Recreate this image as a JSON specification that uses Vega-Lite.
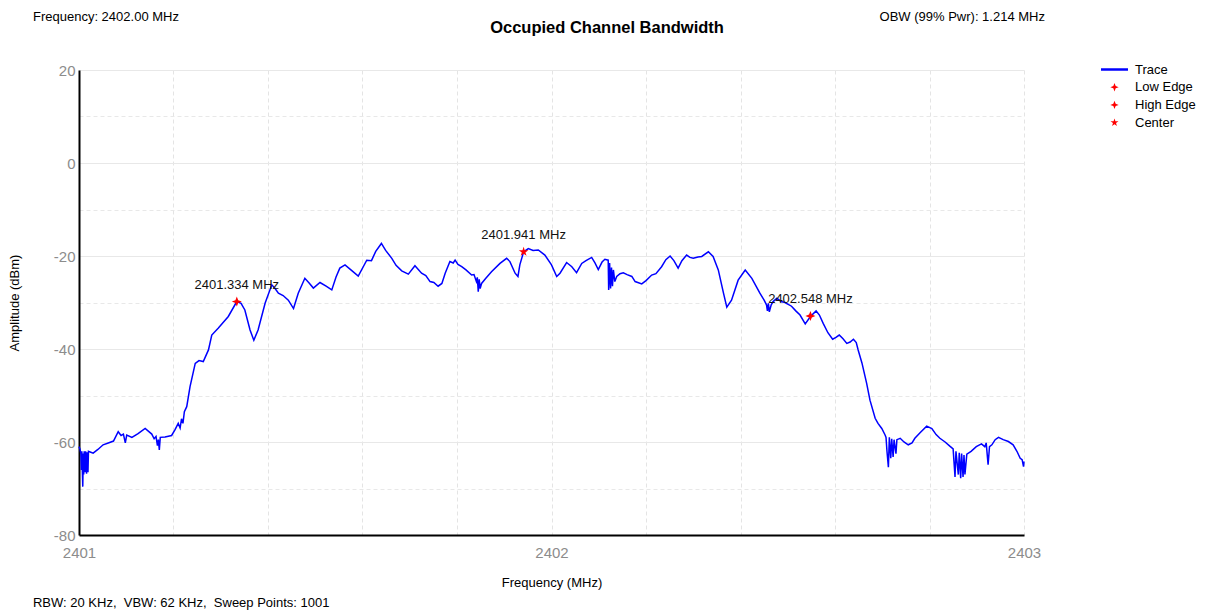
{
  "$schema": "https://vega.github.io/schema/vega-lite/v6.json",
  "width": 945,
  "height": 465,
  "autosize": {"type": "none"},
  "padding": {"left": 79, "top": 70, "right": 184, "bottom": 80},
  "background": "white",
  "config": {"font": "Liberation Sans", "view": {"stroke": null}},
  "datasets": {
    "trace": [
      {"f":2401.000,"a":-61.0},{"f":2401.002,"a":-61.5},{"f":2401.004,"a":-62.5},{"f":2401.005,"a":-66.0},{"f":2401.006,"a":-62.0},{"f":2401.008,"a":-69.6},{"f":2401.009,"a":-62.5},{"f":2401.010,"a":-67.0},{"f":2401.011,"a":-62.0},{"f":2401.013,"a":-66.5},{"f":2401.014,"a":-62.0},{"f":2401.016,"a":-66.8},{"f":2401.017,"a":-62.2},{"f":2401.019,"a":-66.5},{"f":2401.020,"a":-62.0},{"f":2401.025,"a":-62.2},{"f":2401.030,"a":-62.4},{"f":2401.040,"a":-61.6},{"f":2401.051,"a":-60.6},{"f":2401.062,"a":-60.2},{"f":2401.073,"a":-59.8},{"f":2401.083,"a":-57.8},{"f":2401.089,"a":-58.6},{"f":2401.094,"a":-58.3},{"f":2401.098,"a":-60.2},{"f":2401.101,"a":-58.5},{"f":2401.112,"a":-59.0},{"f":2401.125,"a":-58.2},{"f":2401.140,"a":-57.1},{"f":2401.154,"a":-58.3},{"f":2401.159,"a":-59.3},{"f":2401.163,"a":-58.8},{"f":2401.166,"a":-60.8},{"f":2401.168,"a":-59.5},{"f":2401.170,"a":-61.7},{"f":2401.172,"a":-59.0},{"f":2401.182,"a":-58.9},{"f":2401.196,"a":-58.6},{"f":2401.203,"a":-57.4},{"f":2401.210,"a":-56.0},{"f":2401.214,"a":-57.0},{"f":2401.217,"a":-55.0},{"f":2401.220,"a":-56.0},{"f":2401.223,"a":-53.5},{"f":2401.228,"a":-52.4},{"f":2401.235,"a":-48.1},{"f":2401.246,"a":-43.1},{"f":2401.254,"a":-42.5},{"f":2401.263,"a":-42.7},{"f":2401.274,"a":-40.2},{"f":2401.281,"a":-37.0},{"f":2401.295,"a":-35.5},{"f":2401.316,"a":-33.0},{"f":2401.334,"a":-29.8},{"f":2401.343,"a":-30.2},{"f":2401.351,"a":-31.6},{"f":2401.362,"a":-35.9},{"f":2401.370,"a":-38.1},{"f":2401.379,"a":-35.9},{"f":2401.394,"a":-30.1},{"f":2401.408,"a":-26.2},{"f":2401.415,"a":-27.0},{"f":2401.422,"a":-28.0},{"f":2401.432,"a":-28.5},{"f":2401.443,"a":-29.5},{"f":2401.454,"a":-31.3},{"f":2401.464,"a":-28.0},{"f":2401.478,"a":-24.8},{"f":2401.487,"a":-25.8},{"f":2401.496,"a":-26.9},{"f":2401.510,"a":-25.7},{"f":2401.523,"a":-26.5},{"f":2401.535,"a":-27.3},{"f":2401.544,"a":-24.5},{"f":2401.552,"a":-22.6},{"f":2401.563,"a":-21.9},{"f":2401.578,"a":-23.2},{"f":2401.591,"a":-24.3},{"f":2401.609,"a":-20.9},{"f":2401.619,"a":-21.0},{"f":2401.628,"a":-19.0},{"f":2401.640,"a":-17.3},{"f":2401.649,"a":-18.8},{"f":2401.662,"a":-20.5},{"f":2401.671,"a":-22.0},{"f":2401.683,"a":-23.2},{"f":2401.697,"a":-23.9},{"f":2401.711,"a":-22.1},{"f":2401.725,"a":-23.7},{"f":2401.734,"a":-24.2},{"f":2401.743,"a":-25.5},{"f":2401.751,"a":-25.7},{"f":2401.760,"a":-26.5},{"f":2401.768,"a":-25.9},{"f":2401.775,"a":-23.7},{"f":2401.785,"a":-21.2},{"f":2401.792,"a":-21.5},{"f":2401.796,"a":-20.9},{"f":2401.802,"a":-21.8},{"f":2401.810,"a":-22.3},{"f":2401.819,"a":-23.0},{"f":2401.831,"a":-24.1},{"f":2401.836,"a":-24.0},{"f":2401.841,"a":-25.5},{"f":2401.843,"a":-24.6},{"f":2401.845,"a":-27.7},{"f":2401.847,"a":-25.0},{"f":2401.849,"a":-27.0},{"f":2401.852,"a":-25.9},{"f":2401.861,"a":-24.8},{"f":2401.873,"a":-23.4},{"f":2401.891,"a":-21.6},{"f":2401.905,"a":-20.5},{"f":2401.912,"a":-21.2},{"f":2401.923,"a":-23.7},{"f":2401.929,"a":-24.4},{"f":2401.933,"a":-21.9},{"f":2401.941,"a":-19.1},{"f":2401.951,"a":-18.4},{"f":2401.961,"a":-18.8},{"f":2401.972,"a":-18.7},{"f":2401.986,"a":-19.8},{"f":2402.000,"a":-21.9},{"f":2402.011,"a":-24.4},{"f":2402.018,"a":-23.7},{"f":2402.032,"a":-21.4},{"f":2402.043,"a":-22.3},{"f":2402.053,"a":-23.6},{"f":2402.064,"a":-21.6},{"f":2402.073,"a":-21.0},{"f":2402.085,"a":-20.3},{"f":2402.092,"a":-21.5},{"f":2402.099,"a":-22.9},{"f":2402.107,"a":-21.3},{"f":2402.113,"a":-20.7},{"f":2402.120,"a":-20.9},{"f":2402.121,"a":-27.3},{"f":2402.123,"a":-21.5},{"f":2402.125,"a":-27.0},{"f":2402.127,"a":-22.5},{"f":2402.129,"a":-26.5},{"f":2402.131,"a":-23.0},{"f":2402.134,"a":-25.5},{"f":2402.138,"a":-24.4},{"f":2402.145,"a":-23.8},{"f":2402.152,"a":-23.6},{"f":2402.160,"a":-24.0},{"f":2402.170,"a":-24.4},{"f":2402.177,"a":-25.5},{"f":2402.191,"a":-26.0},{"f":2402.200,"a":-25.3},{"f":2402.212,"a":-24.1},{"f":2402.221,"a":-23.8},{"f":2402.233,"a":-22.3},{"f":2402.242,"a":-20.8},{"f":2402.251,"a":-20.0},{"f":2402.259,"a":-21.0},{"f":2402.268,"a":-22.6},{"f":2402.276,"a":-21.0},{"f":2402.286,"a":-19.8},{"f":2402.293,"a":-20.3},{"f":2402.300,"a":-20.5},{"f":2402.310,"a":-20.2},{"f":2402.318,"a":-20.1},{"f":2402.332,"a":-19.1},{"f":2402.342,"a":-20.1},{"f":2402.353,"a":-23.0},{"f":2402.364,"a":-28.0},{"f":2402.371,"a":-31.0},{"f":2402.381,"a":-29.5},{"f":2402.395,"a":-25.2},{"f":2402.410,"a":-23.0},{"f":2402.424,"a":-24.8},{"f":2402.441,"a":-28.0},{"f":2402.450,"a":-29.5},{"f":2402.455,"a":-30.5},{"f":2402.457,"a":-31.8},{"f":2402.459,"a":-30.2},{"f":2402.461,"a":-32.0},{"f":2402.465,"a":-30.5},{"f":2402.469,"a":-29.8},{"f":2402.477,"a":-29.1},{"f":2402.486,"a":-29.8},{"f":2402.494,"a":-30.0},{"f":2402.508,"a":-30.8},{"f":2402.517,"a":-31.8},{"f":2402.526,"a":-32.7},{"f":2402.537,"a":-34.6},{"f":2402.548,"a":-33.0},{"f":2402.560,"a":-31.8},{"f":2402.567,"a":-32.7},{"f":2402.575,"a":-34.5},{"f":2402.585,"a":-36.5},{"f":2402.595,"a":-37.9},{"f":2402.602,"a":-37.5},{"f":2402.609,"a":-37.0},{"f":2402.617,"a":-37.8},{"f":2402.625,"a":-38.8},{"f":2402.632,"a":-38.5},{"f":2402.639,"a":-37.9},{"f":2402.645,"a":-38.6},{"f":2402.649,"a":-40.2},{"f":2402.657,"a":-43.0},{"f":2402.667,"a":-47.4},{"f":2402.674,"a":-51.0},{"f":2402.685,"a":-54.9},{"f":2402.691,"a":-56.0},{"f":2402.699,"a":-57.1},{"f":2402.706,"a":-58.5},{"f":2402.708,"a":-59.0},{"f":2402.710,"a":-62.0},{"f":2402.713,"a":-65.4},{"f":2402.715,"a":-59.0},{"f":2402.718,"a":-63.5},{"f":2402.720,"a":-59.3},{"f":2402.723,"a":-63.2},{"f":2402.725,"a":-59.5},{"f":2402.729,"a":-62.5},{"f":2402.731,"a":-59.5},{"f":2402.738,"a":-59.2},{"f":2402.746,"a":-60.0},{"f":2402.755,"a":-60.6},{"f":2402.763,"a":-60.2},{"f":2402.769,"a":-59.2},{"f":2402.780,"a":-58.0},{"f":2402.794,"a":-56.6},{"f":2402.805,"a":-57.1},{"f":2402.814,"a":-58.4},{"f":2402.822,"a":-59.2},{"f":2402.833,"a":-60.0},{"f":2402.843,"a":-60.9},{"f":2402.850,"a":-61.5},{"f":2402.854,"a":-67.5},{"f":2402.856,"a":-62.0},{"f":2402.861,"a":-67.0},{"f":2402.863,"a":-62.3},{"f":2402.866,"a":-67.8},{"f":2402.868,"a":-62.5},{"f":2402.871,"a":-67.5},{"f":2402.873,"a":-62.8},{"f":2402.875,"a":-67.0},{"f":2402.879,"a":-62.6},{"f":2402.888,"a":-62.0},{"f":2402.899,"a":-61.0},{"f":2402.910,"a":-60.4},{"f":2402.917,"a":-61.0},{"f":2402.920,"a":-60.2},{"f":2402.924,"a":-64.9},{"f":2402.927,"a":-61.0},{"f":2402.932,"a":-60.6},{"f":2402.939,"a":-59.5},{"f":2402.946,"a":-59.0},{"f":2402.956,"a":-59.5},{"f":2402.967,"a":-59.9},{"f":2402.977,"a":-60.6},{"f":2402.985,"a":-62.0},{"f":2402.992,"a":-63.5},{"f":2402.996,"a":-63.8},{"f":2402.999,"a":-65.3},{"f":2403.000,"a":-64.2}
    ],
    "markers": [
      {"f":2401.334,"a":-29.8,"series":"Low Edge","label":"2401.334 MHz"},
      {"f":2402.548,"a":-32.9,"series":"High Edge","label":"2402.548 MHz"},
      {"f":2401.941,"a":-19.1,"series":"Center","label":"2401.941 MHz"}
    ]
  },
  "layer": [
    {
      "data": {"name": "trace"},
      "mark": {"type": "line", "strokeWidth": 1.5, "interpolate": "linear"},
      "encoding": {
        "x": {
          "field": "f", "type": "quantitative",
          "scale": {"domain": [2401, 2403], "nice": false, "zero": false},
          "axis": {
            "values": [2401, 2401.2, 2401.4, 2401.6, 2401.8, 2402, 2402.2, 2402.4, 2402.6, 2402.8, 2403],
            "labelExpr": "abs(datum.value - round(datum.value)) < 0.001 ? toString(round(datum.value)) : ''",
            "labelFlush": false, "labelOverlap": false, "labelBound": false,
            "labelColor": "#8c8c8c", "labelFontSize": 15, "labelPadding": 10, "labelFont": "Liberation Sans",
            "ticks": false,
            "domainColor": "#000000", "domainWidth": 2,
            "grid": true, "gridColor": "#e4e4e4", "gridDash": [4, 3], "gridWidth": 1,
            "title": "Frequency (MHz)", "titleFontSize": 13, "titleFontWeight": "normal", "titleColor": "#000000", "titlePadding": 16, "titleFont": "Liberation Sans"
          }
        },
        "y": {
          "field": "a", "type": "quantitative",
          "scale": {"domain": [-80, 20], "nice": false, "zero": false},
          "axis": {
            "values": [-80, -75, -70, -65, -60, -55, -50, -45, -40, -35, -30, -25, -20, -15, -10, -5, 0, 5, 10, 15, 20],
            "labelExpr": "datum.value % 20 === 0 ? toString(datum.value) : ''",
            "labelOverlap": false, "labelBound": false,
            "labelColor": "#8c8c8c", "labelFontSize": 15, "labelPadding": 4, "labelFont": "Liberation Sans",
            "ticks": false,
            "domainColor": "#000000", "domainWidth": 2,
            "grid": true, "gridColor": "#e8e8e8", "gridWidth": 1,
            "gridDash": {"condition": {"test": "datum.value % 20 === 0", "value": []}, "value": [4, 3]},
            "title": "Amplitude (dBm)", "titleFontSize": 13, "titleFontWeight": "normal", "titleColor": "#000000", "titlePadding": 32, "titleFont": "Liberation Sans"
          }
        },
        "color": {
          "datum": "Trace", "type": "nominal", "title": null,
          "scale": {"domain": ["Trace", "Low Edge", "High Edge", "Center"], "range": ["#0000ff", "#ff0000", "#ff0000", "#ff0000"]},
          "legend": {
            "title": null, "orient": "none", "legendX": 1029, "legendY": -7, "padding": 0,
            "symbolSize": 100, "labelOffset": 14, "labelFontSize": 13, "labelColor": "#000000", "labelFont": "Liberation Sans",
            "rowPadding": 3.7, "labelLimit": 300,
            "encode": {
              "symbols": {
                "update": {
                  "shape": {"signal": "datum.value === 'Trace' ? 'stroke' : (datum.value === 'Center' ? 'M0,-1L0.223,-0.307L0.951,-0.309L0.361,0.117L0.588,0.809L0,0.38L-0.588,0.809L-0.361,0.117L-0.951,-0.309L-0.223,-0.307Z' : 'M0,-1L0.28,-0.28L1,0L0.28,0.28L0,1L-0.28,0.28L-1,0L-0.28,-0.28Z')"},
                  "size": {"signal": "datum.value === 'Trace' ? 729 : 70"},
                  "fill": {"signal": "datum.value === 'Trace' ? 'transparent' : '#ff0000'"},
                  "stroke": {"signal": "datum.value === 'Trace' ? '#0000ff' : '#ff0000'"},
                  "strokeWidth": {"signal": "datum.value === 'Trace' ? 2.5 : 0"},
                  "opacity": {"value": 1}
                }
              }
            }
          }
        }
      }
    },
    {
      "data": {"name": "markers"},
      "mark": {"type": "point", "filled": true, "size": 100, "opacity": 1},
      "encoding": {
        "x": {"field": "f", "type": "quantitative"},
        "y": {"field": "a", "type": "quantitative"},
        "color": {
          "field": "series", "type": "nominal", "title": null,
          "legend": {
            "title": null, "orient": "none", "legendX": 1029, "legendY": -7, "padding": 0,
            "symbolSize": 100, "labelOffset": 14, "labelFontSize": 13, "labelColor": "#000000", "labelFont": "Liberation Sans",
            "rowPadding": 3.7, "labelLimit": 300
          }
        },
        "shape": {
          "field": "series", "type": "nominal",
          "scale": {"domain": ["Low Edge", "High Edge", "Center"], "range": ["M0,-1L0.28,-0.28L1,0L0.28,0.28L0,1L-0.28,0.28L-1,0L-0.28,-0.28Z", "M0,-1L0.28,-0.28L1,0L0.28,0.28L0,1L-0.28,0.28L-1,0L-0.28,-0.28Z", "M0,-1L0.223,-0.307L0.951,-0.309L0.361,0.117L0.588,0.809L0,0.38L-0.588,0.809L-0.361,0.117L-0.951,-0.309L-0.223,-0.307Z"]},
          "legend": null
        }
      }
    },
    {
      "data": {"name": "markers"},
      "mark": {"type": "text", "dy": -17, "fontSize": 13, "fill": "#111111", "font": "Liberation Sans", "baseline": "middle", "align": "center"},
      "encoding": {
        "x": {"field": "f", "type": "quantitative"},
        "y": {"field": "a", "type": "quantitative"},
        "text": {"field": "label"}
      }
    },
    {
      "data": {"values": [{"t": "Occupied Channel Bandwidth"}]},
      "mark": {"type": "text", "align": "center", "baseline": "middle", "fontSize": 16.5, "fontWeight": "bold", "fill": "#000000", "font": "Liberation Sans"},
      "encoding": {
        "x": {"datum": 2402.1175, "type": "quantitative"},
        "y": {"datum": 29.0, "type": "quantitative"},
        "text": {"field": "t"}
      }
    },
    {
      "data": {"values": [{"t": "Frequency: 2402.00 MHz"}]},
      "mark": {"type": "text", "align": "left", "baseline": "middle", "fontSize": 13, "fill": "#000000", "font": "Liberation Sans"},
      "encoding": {
        "x": {"datum": 2400.9026, "type": "quantitative"},
        "y": {"datum": 31.4, "type": "quantitative"},
        "text": {"field": "t"}
      }
    },
    {
      "data": {"values": [{"t": "OBW (99% Pwr): 1.214 MHz"}]},
      "mark": {"type": "text", "align": "right", "baseline": "middle", "fontSize": 13, "fill": "#000000", "font": "Liberation Sans"},
      "encoding": {
        "x": {"datum": 2403.0444, "type": "quantitative"},
        "y": {"datum": 31.4, "type": "quantitative"},
        "text": {"field": "t"}
      }
    },
    {
      "data": {"values": [{"t": "RBW: 20 KHz,\u00a0 VBW: 62 KHz,\u00a0 Sweep Points: 1001"}]},
      "mark": {"type": "text", "align": "left", "baseline": "middle", "fontSize": 13, "fill": "#000000", "font": "Liberation Sans"},
      "encoding": {
        "x": {"datum": 2400.9026, "type": "quantitative"},
        "y": {"datum": -94.6, "type": "quantitative"},
        "text": {"field": "t"}
      }
    }
  ]
}
